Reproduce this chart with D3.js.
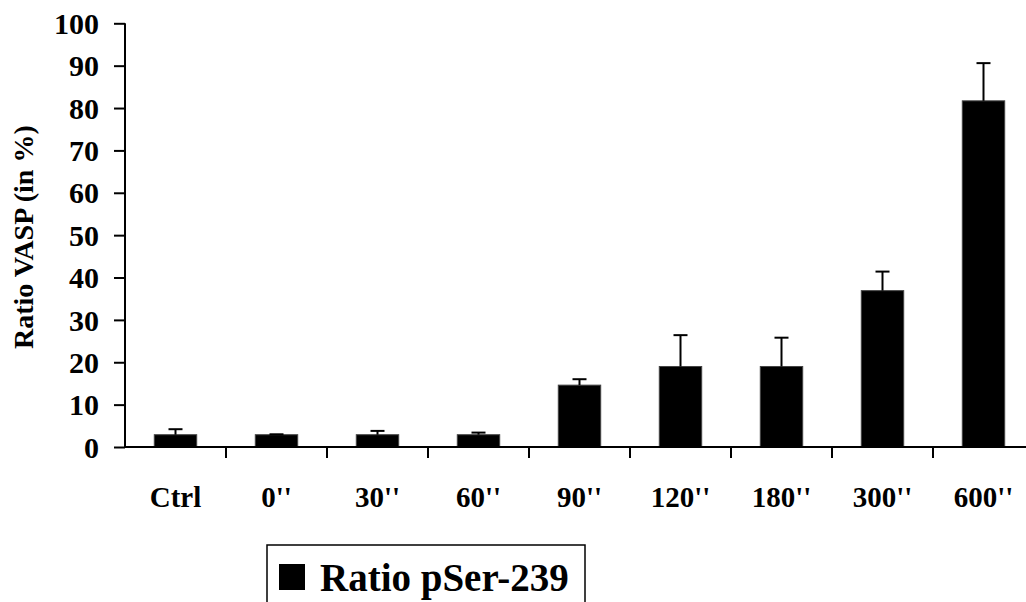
<!doctype html>
<html>
<head>
<meta charset="utf-8">
<style>
  body { margin: 0; background: #fff; }
  svg { display: block; font-family: "Liberation Serif", "Times New Roman", serif; font-weight: bold; }
  .bar { fill: #000; stroke: #444; stroke-width: 1; }
  .err { stroke: #000; stroke-width: 2; fill: none; }
</style>
</head>
<body>
<svg id="chart" width="1026" height="602"></svg>
<script src="https://d3js.org/d3.v7.min.js"></script>
<script>
// values
var categories = ["Ctrl", "0''", "30''", "60''", "90''", "120''", "180''", "300''", "600''"];
var means = [2.9, 2.9, 2.9, 2.9, 14.6, 19.0, 19.0, 36.9, 81.7];
var errors = [1.3, 0.1, 0.9, 0.5, 1.4, 7.4, 6.8, 4.5, 8.9];
var yTicks = [0, 10, 20, 30, 40, 50, 60, 70, 80, 90, 100];
var seriesName = "Ratio pSer-239";
var yTitle = "Ratio VASP (in %)";

var svg = d3.select("#chart");

var x = d3.scaleBand()
    .domain(categories)
    .range([125, 1034])
    .paddingInner(0.58)
    .paddingOuter(0.29);

var y = d3.scaleLinear()
    .domain([0, 100])
    .range([447, 23.3]);

// bars
svg.selectAll("rect.bar")
    .data(means)
    .enter().append("rect")
      .attr("class", "bar")
      .attr("x", function(d, i) { return x(categories[i]); })
      .attr("y", function(d) { return y(d); })
      .attr("width", x.bandwidth())
      .attr("height", function(d) { return y(0) - y(d); });

// upper error bars
var err = svg.selectAll("g.errbar")
    .data(means)
    .enter().append("g")
      .attr("class", "errbar");
err.append("line")
    .attr("class", "err")
    .attr("x1", function(d, i) { return x(categories[i]) + x.bandwidth() / 2; })
    .attr("x2", function(d, i) { return x(categories[i]) + x.bandwidth() / 2; })
    .attr("y1", function(d) { return y(d); })
    .attr("y2", function(d, i) { return y(d + errors[i]); });
err.append("line")
    .attr("class", "err")
    .attr("x1", function(d, i) { return x(categories[i]) + x.bandwidth() / 2 - 7; })
    .attr("x2", function(d, i) { return x(categories[i]) + x.bandwidth() / 2 + 7; })
    .attr("y1", function(d, i) { return y(d + errors[i]); })
    .attr("y2", function(d, i) { return y(d + errors[i]); });

// y axis
var yAxis = d3.axisLeft(y).tickValues(yTicks).tickSize(11).tickPadding(15);
var gy = svg.append("g")
    .attr("transform", "translate(125,0)")
    .call(yAxis);
gy.select(".domain").attr("stroke-width", 2).attr("d", "M0," + y(100) + "V" + y(0));
gy.selectAll(".tick line").attr("stroke-width", 2);
gy.selectAll(".tick text")
    .attr("font-size", 30)
    .attr("font-family", "Liberation Serif")
    .attr("font-weight", "bold")
    .attr("fill", "#000")
    .attr("dy", "0.34em");

// x axis: labels from the band scale, ticks on the band boundaries
var xAxis = d3.axisBottom(x).tickSize(0).tickPadding(60);
var gx = svg.append("g")
    .attr("transform", "translate(0," + y(0) + ")")
    .call(xAxis);
gx.select(".domain").attr("stroke-width", 1.8).attr("d", "M125,0H1034");
gx.selectAll(".tick text")
    .attr("font-size", 29)
    .attr("font-family", "Liberation Serif")
    .attr("font-weight", "bold")
    .attr("fill", "#000")
    .attr("dy", "0");
gx.selectAll("line.sep")
    .data(categories)
    .enter().append("line")
      .attr("class", "sep")
      .attr("x1", function(d, i) { return 125 + x.step() * (i + 1); })
      .attr("x2", function(d, i) { return 125 + x.step() * (i + 1); })
      .attr("y1", 0)
      .attr("y2", 11)
      .attr("stroke", "#000")
      .attr("stroke-width", 2);

// y title
svg.append("text")
    .attr("transform", "translate(33," + ((y(0) + y(100)) / 2 + 2) + ") rotate(-90)")
    .attr("text-anchor", "middle")
    .attr("font-size", 28)
    .attr("fill", "#000")
    .text(yTitle);

// legend
var legend = svg.append("g").attr("transform", "translate(267,545)");
legend.append("rect")
    .attr("width", 318)
    .attr("height", 90)
    .attr("fill", "#fff")
    .attr("stroke", "#000")
    .attr("stroke-width", 1.5);
legend.append("rect")
    .attr("x", 12)
    .attr("y", 19)
    .attr("width", 26)
    .attr("height", 26)
    .attr("fill", "#000");
legend.append("text")
    .attr("x", 53)
    .attr("y", 46)
    .attr("font-size", 39)
    .attr("fill", "#000")
    .text(seriesName);
</script>
</body>
</html>
